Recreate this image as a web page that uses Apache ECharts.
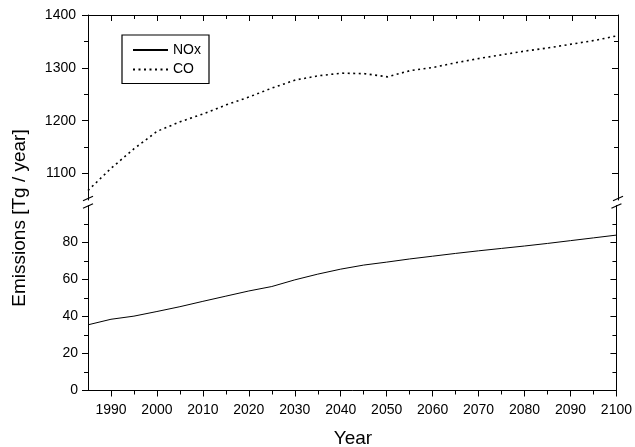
<!DOCTYPE html>
<html>
<head>
<meta charset="utf-8">
<script src="https://cdn.jsdelivr.net/npm/echarts@6/dist/echarts.min.js"></script>
<style>
  html, body { margin: 0; padding: 0; background: #fff; }
  #chart { width: 635px; height: 447px; }
</style>
</head>
<body>
<div id="chart"></div>
<script>
// data
const years = [1985, 1990, 1995, 2000, 2005, 2010, 2015, 2020, 2025, 2030, 2035, 2040,
  2045, 2050, 2055, 2060, 2065, 2070, 2075, 2080, 2085, 2090, 2095, 2100]
const nox = [35.5, 38.5, 40.2, 42.7, 45.3, 48.2, 51.0, 53.8, 56.2, 59.8, 62.9, 65.6,
  67.8, 69.4, 71.1, 72.6, 74.1, 75.5, 76.8, 78.1, 79.5, 81.0, 82.5, 84.0]
const co = [1068, 1110, 1147, 1180, 1198, 1213, 1230, 1245, 1262, 1277, 1285, 1290,
  1289, 1283, 1295, 1301, 1310, 1318, 1325, 1332, 1338, 1345, 1352, 1361]

// tick labels
const xMajorTicks = [1990, 2000, 2010, 2020, 2030, 2040, 2050, 2060, 2070, 2080, 2090, 2100]
const xMinorTicks = [1995, 2005, 2015, 2025, 2035, 2045, 2055, 2065, 2075, 2085, 2095]
const coMajorTicks = [1100, 1200, 1300, 1400]
const coMinorTicks = [1150, 1250, 1350]
const noxMajorTicks = [0, 20, 40, 60, 80]
const noxMinorTicks = [10, 30, 50, 70, 90]

const FONT = 'Liberation Sans, Arial, sans-serif'
const BLACK = '#000'

function xAxis(grid, position, ticks, len, opts) {
  return Object.assign({
    type: 'value',
    gridIndex: grid,
    position: position,
    min: 1985,
    max: 2100,
    axisLine: { show: false, onZero: false, lineStyle: { color: BLACK, width: 1 } },
    axisTick: { show: true, customValues: ticks, length: len, inside: position === 'top', lineStyle: { color: BLACK, width: 1 } },
    axisLabel: { show: false },
    splitLine: { show: false }
  }, opts || {})
}

function yAxis(grid, position, min, max, ticks, len, opts) {
  return Object.assign({
    type: 'value',
    gridIndex: grid,
    position: position,
    min: min,
    max: max,
    axisLine: { show: false, onZero: false, lineStyle: { color: BLACK, width: 1 } },
    axisTick: { show: true, customValues: ticks, length: len, inside: position === 'right', lineStyle: { color: BLACK, width: 1 } },
    axisLabel: { show: false },
    splitLine: { show: false }
  }, opts || {})
}

const labelStyle = { show: true, color: BLACK, fontSize: 14, fontFamily: FONT, formatter: v => String(v) }
const lineOn = { show: true, onZero: false, lineStyle: { color: BLACK, width: 1 } }

const chart = echarts.init(document.getElementById('chart'), null, { renderer: 'canvas' })

chart.setOption({
  animation: false,
  backgroundColor: '#fff',
  grid: [
    { left: 88, right: 17, top: 15, height: 185 },
    { left: 88, right: 17, top: 205.5, height: 185 }
  ],
  legend: {
    orient: 'vertical',
    left: 122,
    top: 35,
    padding: [8, 8, 7, 10],
    itemGap: 5.5,
    itemWidth: 35,
    itemHeight: 14,
    borderColor: BLACK,
    borderWidth: 1.2,
    itemStyle: { opacity: 0 },
    textStyle: { color: BLACK, fontSize: 14, fontFamily: FONT },
    data: ['NOx', 'CO']
  },
  xAxis: [
    xAxis(0, 'top', xMajorTicks, 6, { axisLine: lineOn }),
    xAxis(0, 'top', xMinorTicks, 4),
    xAxis(1, 'bottom', xMajorTicks, 6, {
      axisLine: lineOn,
      axisLabel: Object.assign({ customValues: xMajorTicks, margin: 13 }, labelStyle)
    }),
    xAxis(1, 'bottom', xMinorTicks, 4)
  ],
  yAxis: [
    yAxis(0, 'left', 1050, 1400, coMajorTicks, 6, {
      axisLine: lineOn,
      axisLabel: Object.assign({ customValues: coMajorTicks, margin: 12 }, labelStyle)
    }),
    yAxis(0, 'left', 1050, 1400, coMinorTicks, 4),
    yAxis(0, 'right', 1050, 1400, coMajorTicks, 6, { axisLine: lineOn }),
    yAxis(0, 'right', 1050, 1400, coMinorTicks, 4),
    yAxis(1, 'left', 0, 100, noxMajorTicks, 6, {
      axisLine: lineOn,
      axisLabel: Object.assign({ customValues: noxMajorTicks, margin: 10 }, labelStyle)
    }),
    yAxis(1, 'left', 0, 100, noxMinorTicks, 4),
    yAxis(1, 'right', 0, 100, noxMajorTicks, 6, { axisLine: lineOn }),
    yAxis(1, 'right', 0, 100, noxMinorTicks, 4)
  ],
  series: [
    {
      name: 'NOx',
      type: 'line',
      xAxisIndex: 2,
      yAxisIndex: 4,
      symbol: 'none',
      lineStyle: { color: BLACK, width: 1 },
      itemStyle: { color: BLACK },
      data: years.map((y, i) => [y, nox[i]])
    },
    {
      name: 'CO',
      type: 'line',
      xAxisIndex: 0,
      yAxisIndex: 0,
      symbol: 'none',
      lineStyle: { color: BLACK, width: 1.6, type: [2, 3.5] },
      itemStyle: { color: BLACK },
      data: years.map((y, i) => [y, co[i]])
    }
  ]
})

// axis titles and the break marks on both vertical axes
const topLeft = chart.convertToPixel({ xAxisIndex: 0, yAxisIndex: 0 }, [1985, 1050])
const topRight = chart.convertToPixel({ xAxisIndex: 0, yAxisIndex: 0 }, [2100, 1050])
const lowLeft = chart.convertToPixel({ xAxisIndex: 2, yAxisIndex: 4 }, [1985, 100])
const lowRight = chart.convertToPixel({ xAxisIndex: 2, yAxisIndex: 4 }, [2100, 100])

function slash(x, y) {
  return {
    type: 'line',
    shape: { x1: x - 5, y1: y + 2.2, x2: x + 5, y2: y - 2.2 },
    style: { stroke: BLACK, lineWidth: 1.2 },
    silent: true
  }
}

chart.setOption({
  graphic: [
    {
      type: 'text',
      x: 353,
      y: 439,
      style: { text: 'Year', fill: BLACK, font: '19px ' + FONT, textAlign: 'center', textVerticalAlign: 'middle' }
    },
    {
      type: 'text',
      x: 19.5,
      y: 218,
      rotation: Math.PI / 2,
      style: { text: 'Emissions [Tg / year]', fill: BLACK, font: '19px ' + FONT, textAlign: 'center', textVerticalAlign: 'middle' }
    },
    slash(topLeft[0], topLeft[1] - 1.5),
    slash(lowLeft[0], lowLeft[1] + 0.5),
    slash(topRight[0], topRight[1] - 1.5),
    slash(lowRight[0], lowRight[1] + 0.5)
  ]
})
</script>
</body>
</html>
